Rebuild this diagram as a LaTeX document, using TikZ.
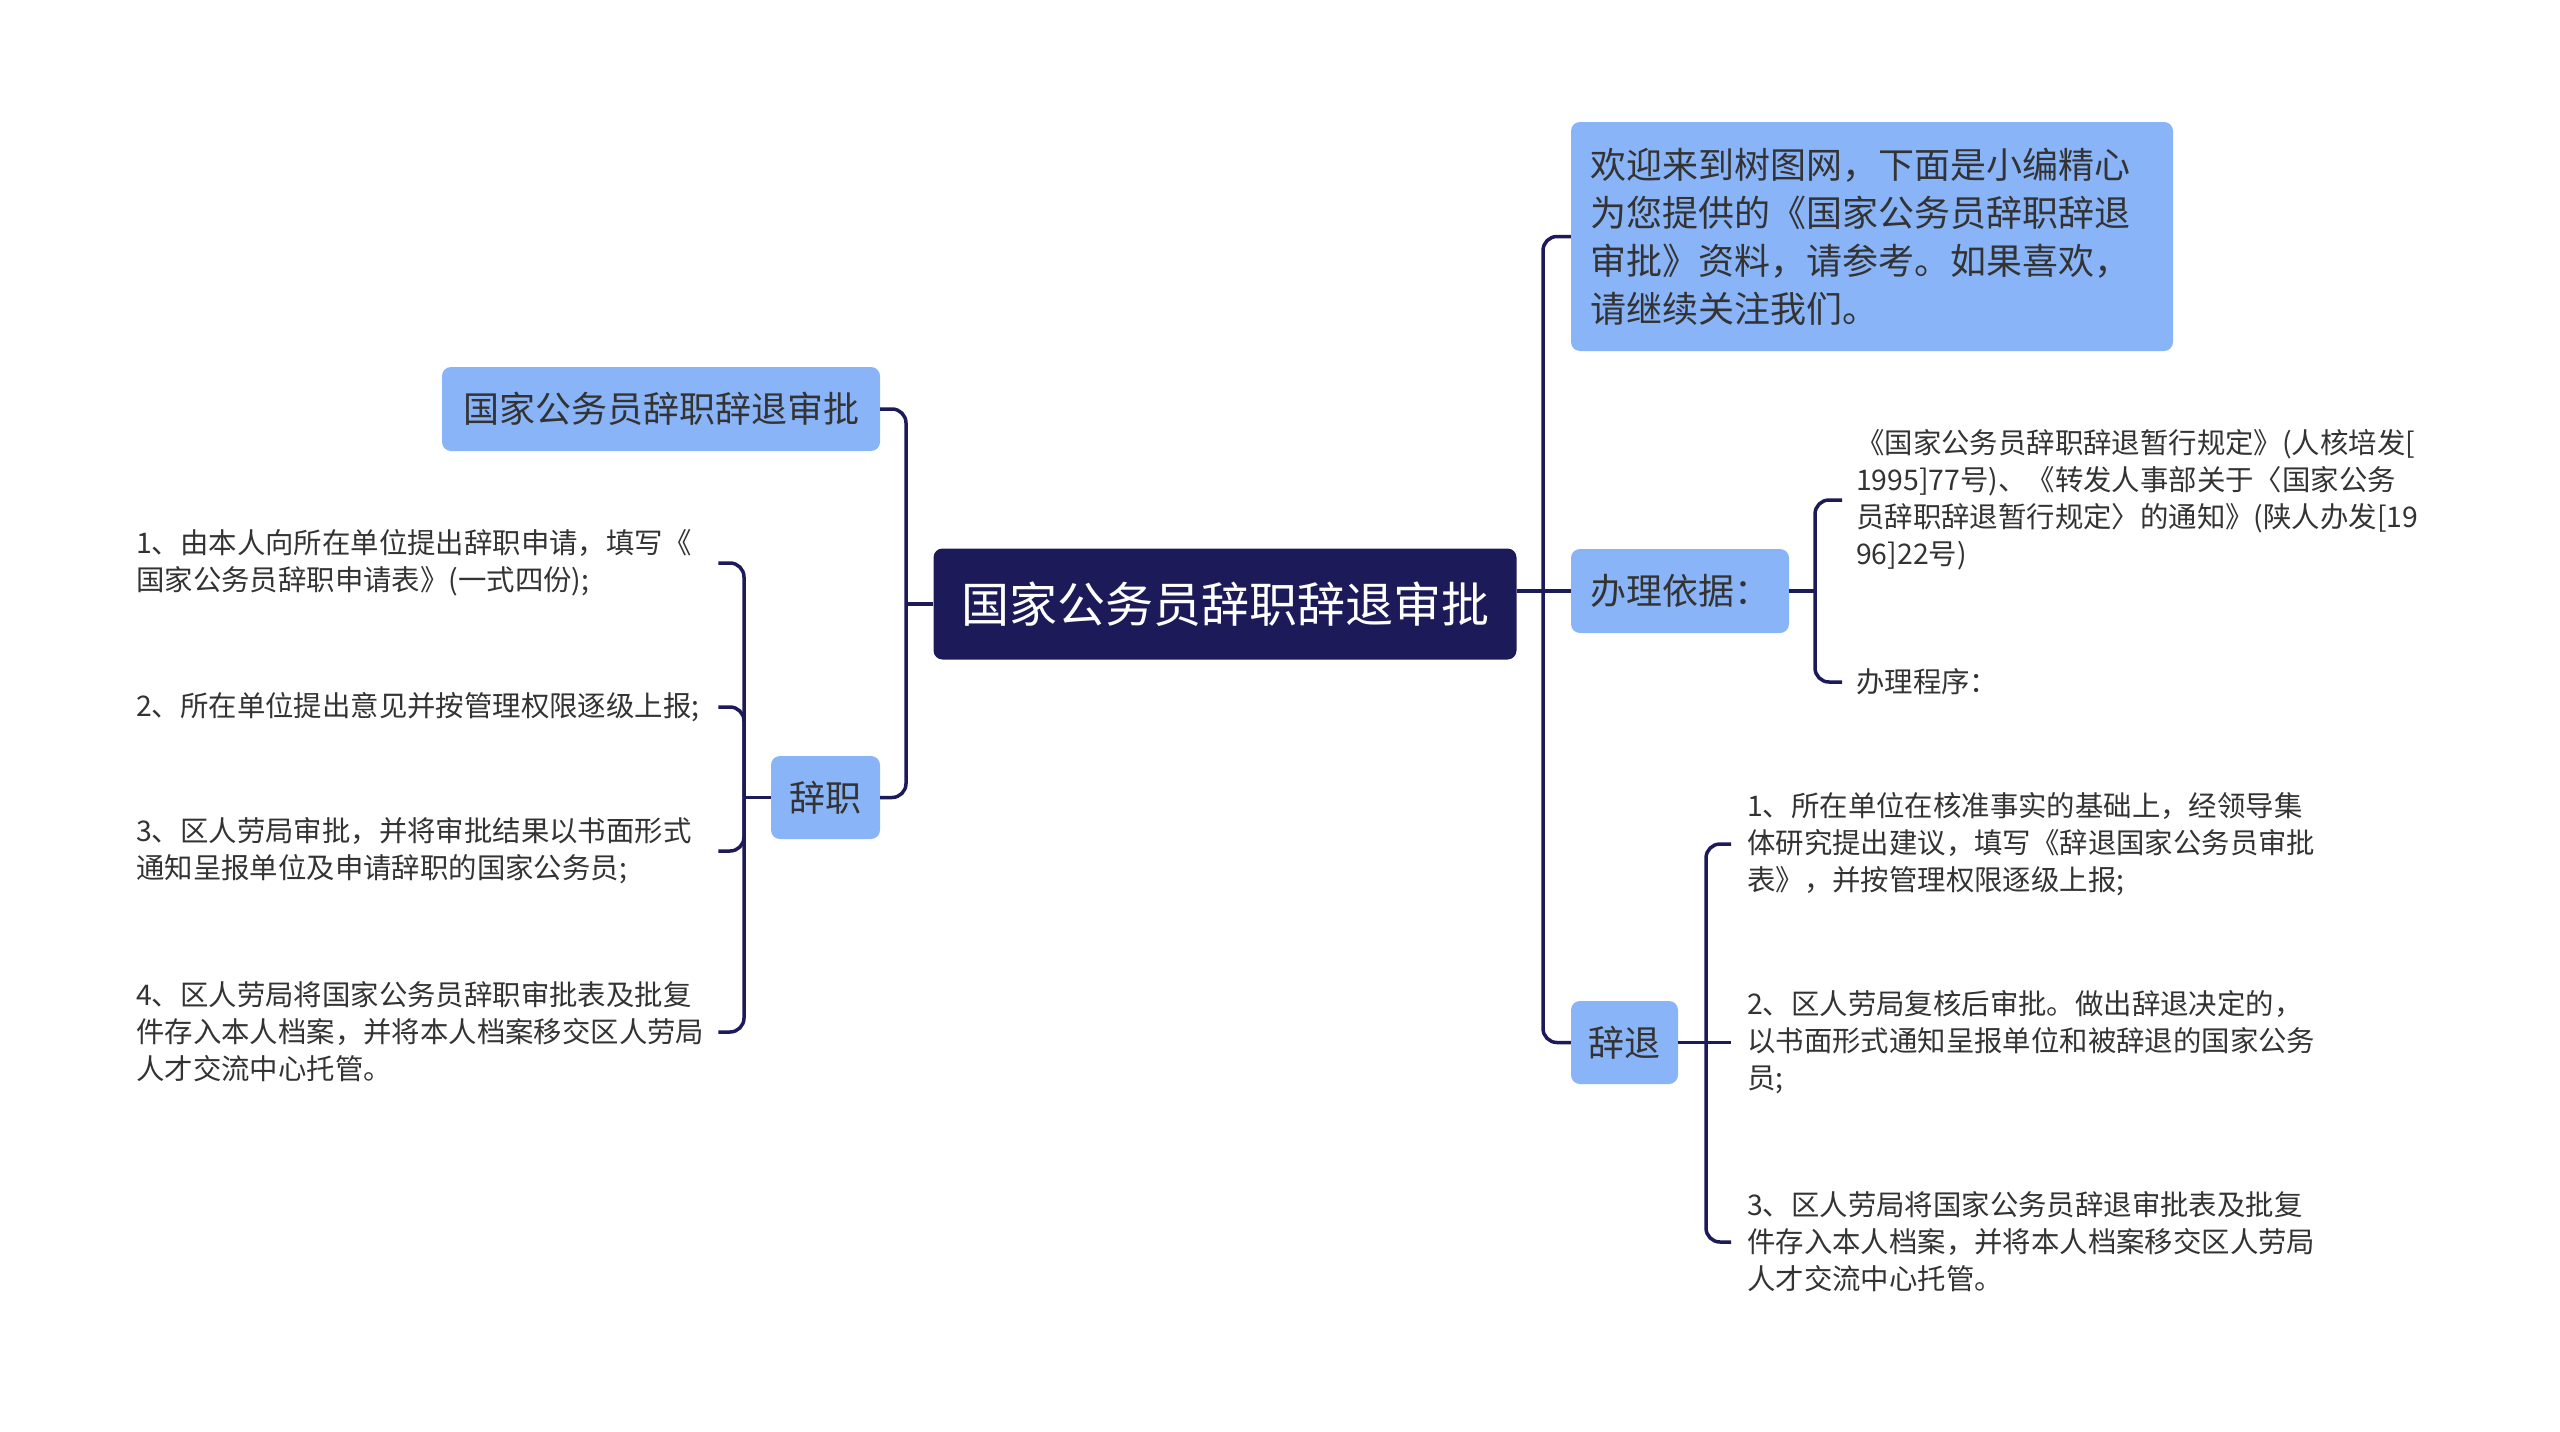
\documentclass[tikz,border=0pt]{standalone}
\usepackage{fontspec}
\setmainfont{Noto Sans CJK SC}
\definecolor{navy}{HTML}{1C1A58}
\definecolor{lblue}{HTML}{8AB4F8}
\definecolor{txt}{HTML}{333333}
\tikzset{
  conn/.style={draw=navy, line width=3.5pt, rounded corners=14pt},
  rootbox/.style={fill=navy, text=white, rounded corners=9pt, inner sep=0pt,
    minimum width=583pt, minimum height=111pt, font=\fontsize{48}{56}\selectfont},
  topicbox/.style={fill=lblue, text=txt, rounded corners=9pt, inner sep=0pt,
    font=\fontsize{36}{48}\selectfont},
  leaf/.style={text=txt, inner sep=0pt, align=left, font=\fontsize{28.4}{37}\selectfont},
}
\begin{document}
\begin{tikzpicture}[x=1pt,y=-1pt]
\useasboundingbox (0,0) rectangle (2560,1432);
% nodes
\node[rootbox] (root) at (1225,604) {国家公务员辞职辞退审批};
\node[topicbox, minimum width=438pt, minimum height=84pt] (title) at (661,409) {国家公务员辞职辞退审批};
\node[topicbox, minimum width=109pt, minimum height=83pt] (cizhi) at (825.5,797.5) {辞职};
\node[topicbox, minimum height=229pt, inner xsep=19pt, text width=564pt, align=left] (intro) at (1872,236.5)
  {欢迎来到树图网，下面是小编精心\\为您提供的《国家公务员辞职辞退\\审批》资料，请参考。如果喜欢，\\请继续关注我们。};
\node[topicbox, minimum width=218pt, minimum height=84pt] (yiju) at (1680,591) {办理依据：};
\node[topicbox, minimum width=107pt, minimum height=83pt] (cituo) at (1624.5,1042.5) {辞退};
% left leaves
\node[leaf, text width=582pt, anchor=west] (k1) at (136,563)
  {1、由本人向所在单位提出辞职申请，填写《\\国家公务员辞职申请表》(一式四份);};
\node[leaf, text width=582pt, anchor=west] (k2) at (136,707)
  {2、所在单位提出意见并按管理权限逐级上报;};
\node[leaf, text width=582pt, anchor=west] (k3) at (136,851)
  {3、区人劳局审批，并将审批结果以书面形式\\通知呈报单位及申请辞职的国家公务员;};
\node[leaf, text width=582pt, anchor=west] (k4) at (136,1032)
  {4、区人劳局将国家公务员辞职审批表及批复\\件存入本人档案，并将本人档案移交区人劳局\\人才交流中心托管。};
% right leaves
\node[leaf, inner xsep=14pt, anchor=west] (y1) at (1842,500)
  {《国家公务员辞职辞退暂行规定》(人核培发[\\1995]77号)、《转发人事部关于〈国家公务\\员辞职辞退暂行规定〉的通知》(陕人办发[19\\96]22号)};
\node[leaf, inner xsep=14pt, anchor=west] (y2) at (1842,682) {办理程序：};
\node[leaf, inner xsep=16pt, anchor=west] (c1) at (1731,844)
  {1、所在单位在核准事实的基础上，经领导集\\体研究提出建议，填写《辞退国家公务员审批\\表》，并按管理权限逐级上报;};
\node[leaf, inner xsep=16pt, anchor=west] (c2) at (1731,1042.5)
  {2、区人劳局复核后审批。做出辞退决定的，\\以书面形式通知呈报单位和被辞退的国家公务\\员;};
\node[leaf, inner xsep=16pt, anchor=west] (c3) at (1731,1242)
  {3、区人劳局将国家公务员辞退审批表及批复\\件存入本人档案，并将本人档案移交区人劳局\\人才交流中心托管。};
% connectors left
\coordinate (lt) at (906,604);
\draw[conn] (root.west) -- (lt);
\draw[conn] (title.east) -| (lt);
\draw[conn] (cizhi.east) -| (lt);
\coordinate (cz) at (744,797.5);
\draw[conn] (cizhi.west) -- (cz);
\draw[conn] (k1.east) -| (cz);
\draw[conn] (k2.east) -| (cz);
\draw[conn] (k3.east) -| (cz);
\draw[conn] (k4.east) -| (cz);
% connectors right
\coordinate (rt) at (1543,591);
\draw[conn] (root.east |- rt) -- (yiju.west);
\draw[conn] (intro.west) -| (rt);
\draw[conn] (cituo.west) -| (rt);
\coordinate (yj) at (1815,591);
\draw[conn] (yiju.east) -- (yj);
\draw[conn] (y1.west) -| (yj);
\draw[conn] (y2.west) -| (yj);
\coordinate (ctb) at (1706,1042.5);
\draw[conn] (cituo.east) -- (ctb);
\draw[conn] (c1.west) -| (ctb);
\draw[conn] (c2.west) -- (ctb);
\draw[conn] (c3.west) -| (ctb);
\end{tikzpicture}
\end{document}
